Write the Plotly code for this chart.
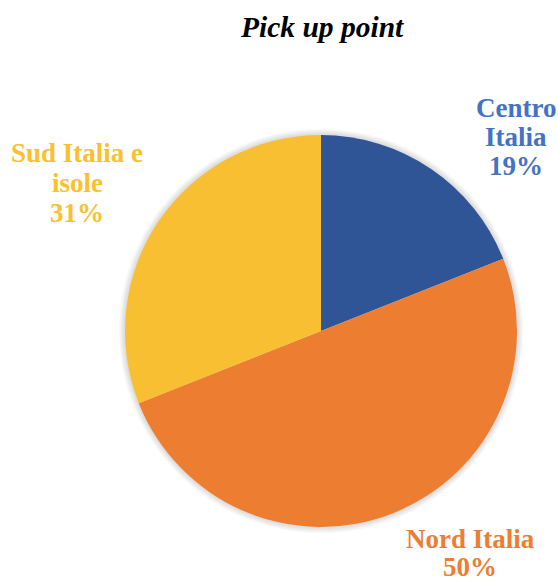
import plotly.graph_objects as go

# Pick-up point distribution by area
regions = ["Centro Italia", "Nord Italia", "Sud Italia e isole"]
shares = [19, 50, 31]
slice_colors = ["#2F5597", "#ED7D31", "#F9BF33"]
label_colors = ["#4472C4", "#ED7D31", "#FBC02D"]

# label lines for each region (text split as displayed)
label_lines = [["Centro", "Italia"], ["Nord Italia"], ["Sud Italia e", "isole"]]
# anchor (x px, first-line y px) and line step for each label block
label_anchor = [(516, 108, 29), (470, 539, 28), (77, 153, 30)]

W, H = 558, 580
FONT = "Liberation Serif, Times New Roman, serif"

# pie centre and radius in pixels
CX, CY, R = 321, 331, 196


def domain_for(radius):
    return dict(x=[(CX - radius) / W, (CX + radius) / W],
                y=[1 - (CY + radius) / H, 1 - (CY - radius) / H])


fig = go.Figure()

# soft shadow: a few faint grey discs slightly larger than the pie
for k in range(6, 0, -1):
    fig.add_trace(go.Pie(
        values=[1], sort=False, textinfo="none", hoverinfo="skip",
        marker=dict(colors=["#808080"], line=dict(width=0)),
        opacity=0.05, showlegend=False, domain=domain_for(R + k),
    ))

fig.add_trace(go.Pie(
    labels=regions,
    values=shares,
    sort=False,
    direction="clockwise",
    rotation=0,
    marker=dict(colors=slice_colors, line=dict(width=0)),
    textinfo="none",
    hoverinfo="label+percent",
    showlegend=False,
    domain=domain_for(R),
))

annotations = []
for name, val, col, lines, (ax, ay, step) in zip(regions, shares, label_colors, label_lines, label_anchor):
    rows = lines + [f"{val}%"]
    for i, row in enumerate(rows):
        annotations.append(dict(
            text=f"<b>{row}</b>", x=ax / W, y=1 - (ay + i * step) / H,
            xref="paper", yref="paper", xanchor="center", yanchor="middle",
            showarrow=False, font=dict(family=FONT, size=27, color=col),
        ))

annotations.append(dict(
    text="<b><i>Pick up point</i></b>", x=322 / W, y=1 - 27 / H,
    xref="paper", yref="paper", xanchor="center", yanchor="middle",
    showarrow=False, font=dict(family=FONT, size=29.5, color="#000000"),
))

fig.update_layout(
    width=W, height=H,
    margin=dict(l=0, r=0, t=0, b=0),
    paper_bgcolor="white", plot_bgcolor="white",
    annotations=annotations,
)

fig.write_html("out.html")
